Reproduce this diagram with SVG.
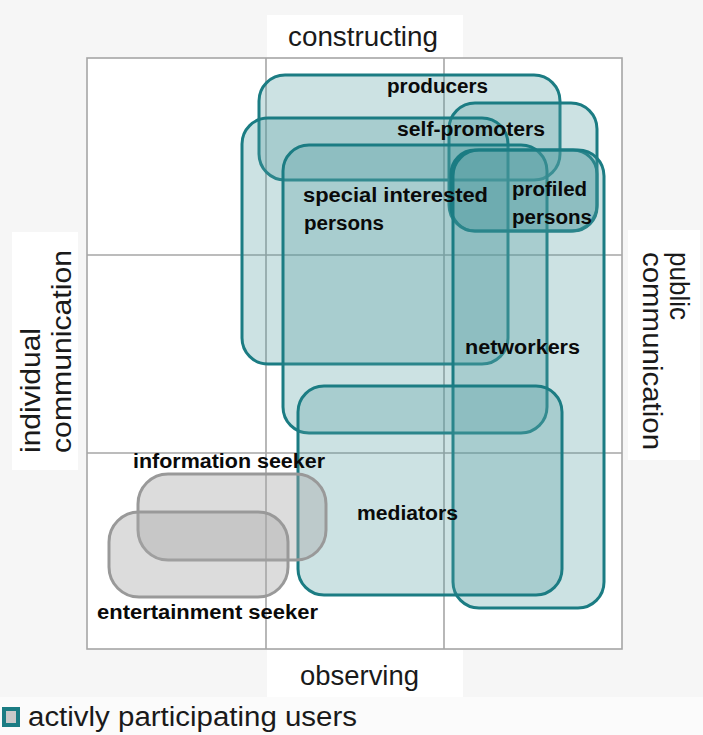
<svg xmlns="http://www.w3.org/2000/svg" width="703" height="735" viewBox="0 0 703 735">
<style>
.axis{font-family:"Liberation Sans",Arial,sans-serif;font-size:27px;fill:#1a1a1a}
.lbl{font-family:"Liberation Sans",Arial,sans-serif;font-size:19.5px;font-weight:bold;fill:#0a0a0a}
.grid{stroke:#a6a6a6;stroke-width:1.6;fill:none}
.user{fill:#4f9aa0;fill-opacity:0.29;stroke:#1b7c83;stroke-width:3}
.seek{fill:#a8a8a8;fill-opacity:0.4;stroke:#999999;stroke-width:3}
</style>
<rect x="0" y="0" width="703" height="735" fill="#f6f6f6"/>
<rect x="0" y="697" width="703" height="38" fill="#fbfbfb"/>
<g id="frame">
<rect x="87" y="58" width="535" height="591" fill="#ffffff"/>
<rect x="267" y="15" width="196" height="43" fill="#ffffff"/>
<rect x="267" y="650" width="196" height="47" fill="#ffffff"/>
<rect x="12" y="232" width="66" height="238" fill="#ffffff"/>
<rect x="628" y="230" width="72" height="230" fill="#ffffff"/>
<rect class="grid" x="87" y="58" width="535" height="591"/>
<line class="grid" x1="266" y1="58" x2="266" y2="649"/>
<line class="grid" x1="444" y1="58" x2="444" y2="649"/>
<line class="grid" x1="87" y1="255" x2="622" y2="255"/>
<line class="grid" x1="87" y1="453" x2="622" y2="453"/>
</g>
<g id="axis-labels">
<text class="axis" x="288" y="46" textLength="150" lengthAdjust="spacingAndGlyphs">constructing</text>
<text class="axis" x="300" y="685" textLength="119" lengthAdjust="spacingAndGlyphs">observing</text>
<text class="axis" transform="translate(40,453) rotate(-90)" x="0" y="0" textLength="125" lengthAdjust="spacingAndGlyphs">individual</text>
<text class="axis" transform="translate(71,453) rotate(-90)" x="0" y="0" textLength="203" lengthAdjust="spacingAndGlyphs">communication</text>
<text class="axis" transform="translate(670,252) rotate(90)" x="0" y="0" textLength="68" lengthAdjust="spacingAndGlyphs">public</text>
<text class="axis" transform="translate(643,252) rotate(90)" x="0" y="0" textLength="198" lengthAdjust="spacingAndGlyphs">communication</text>
</g>
<g id="producers"><rect class="user" x="259" y="75" width="301" height="105" rx="26"/></g>
<g id="self-promoters"><rect class="user" x="449" y="103" width="148" height="128" rx="26"/></g>
<g id="special-interested-persons"><rect class="user" x="242" y="118" width="266" height="246" rx="26"/></g>
<g id="special-interested-persons-2"><rect class="user" x="283" y="145" width="264" height="288" rx="26"/></g>
<g id="profiled-persons"><rect class="user" x="451" y="150" width="146" height="81" rx="24"/></g>
<g id="networkers"><rect class="user" x="453" y="150" width="151" height="458" rx="26"/></g>
<g id="mediators"><rect class="user" x="298" y="386" width="264" height="209" rx="26"/></g>
<g id="information-seeker"><rect class="seek" x="138" y="474" width="188" height="86" rx="30"/></g>
<g id="entertainment-seeker"><rect class="seek" x="109" y="512" width="179" height="85" rx="30"/></g>
<g id="node-labels">
<text class="lbl" x="387" y="93" textLength="101" lengthAdjust="spacingAndGlyphs">producers</text>
<text class="lbl" x="397" y="136" textLength="148" lengthAdjust="spacingAndGlyphs">self-promoters</text>
<text class="lbl" x="303" y="202" textLength="185" lengthAdjust="spacingAndGlyphs">special interested</text>
<text class="lbl" x="304" y="230" textLength="80" lengthAdjust="spacingAndGlyphs">persons</text>
<text class="lbl" x="512" y="196" textLength="75" lengthAdjust="spacingAndGlyphs">profiled</text>
<text class="lbl" x="512" y="224" textLength="80" lengthAdjust="spacingAndGlyphs">persons</text>
<text class="lbl" x="465" y="354" textLength="115" lengthAdjust="spacingAndGlyphs">networkers</text>
<text class="lbl" x="357" y="520" textLength="101" lengthAdjust="spacingAndGlyphs">mediators</text>
<text class="lbl" x="133" y="468" textLength="192" lengthAdjust="spacingAndGlyphs">information seeker</text>
<text class="lbl" x="97" y="619" textLength="221" lengthAdjust="spacingAndGlyphs">entertainment seeker</text>
</g>
<g id="legend">
<rect x="4" y="709" width="14" height="16" fill="#c9c9c9" stroke="#1b7c83" stroke-width="4"/>
<text class="axis" x="28" y="726" font-size="28" textLength="329" lengthAdjust="spacingAndGlyphs">activly participating users</text>
</g>
</svg>
